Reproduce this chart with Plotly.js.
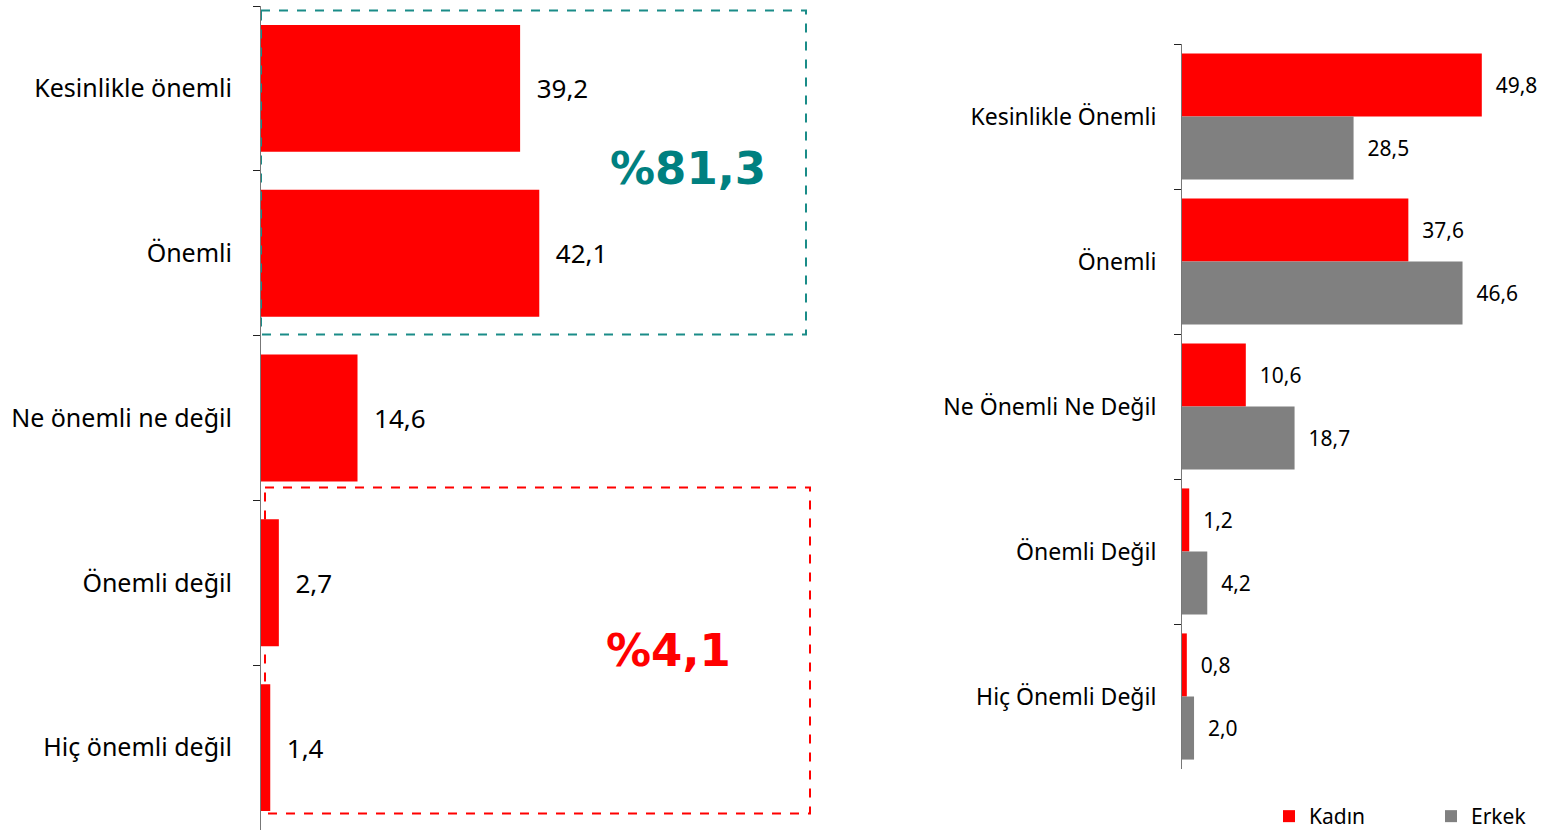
<!DOCTYPE html>
<html>
<head>
<meta charset="utf-8">
<script src="https://cdn.plot.ly/plotly-3.0.1.min.js"></script>
<style>html,body{margin:0;padding:0;background:#fff;overflow:hidden;}#chart{width:1553px;height:837px;}</style>
</head>
<body>
<div id="chart"></div>
<script>
// ---- Data ----
const leftCategories = ["Kesinlikle önemli", "Önemli", "Ne önemli ne değil", "Önemli değil", "Hiç önemli değil"];
const leftValues = [39.2, 42.1, 14.6, 2.7, 1.4];

const rightCategories = ["Kesinlikle Önemli", "Önemli", "Ne Önemli Ne Değil", "Önemli Değil", "Hiç Önemli Değil"];
const kadinValues = [49.8, 37.6, 10.6, 1.2, 0.8];
const erkekValues = [28.5, 46.6, 18.7, 4.2, 2.0];
const seriesNames = ["Kadın", "Erkek"];

const importantTotal = "%81,3";
const unimportantTotal = "%4,1";

// ---- Helpers ----
const fmt = v => "  " + v.toFixed(1).replace(".", ",");
const W = 1553, H = 837;
const px = (x) => x / W;
const py = (y) => (H - y) / H;

const FONT = "Noto Sans, Open Sans, sans-serif";

const traces = [
  {
    type: "bar", orientation: "h",
    y: leftCategories, x: leftValues,
    xaxis: "x", yaxis: "y",
    marker: {color: "#ff0000"},
    width: 0.77,
    text: leftValues.map(fmt), textposition: "outside",
    textfont: {family: FONT, size: 26, color: "#000"},
    cliponaxis: false, showlegend: false, hoverinfo: "x+y"
  },
  {
    type: "bar", orientation: "h",
    y: rightCategories, x: kadinValues, name: seriesNames[0],
    xaxis: "x2", yaxis: "y2", legend: "legend",
    marker: {color: "#ff0000"},
    text: kadinValues.map(fmt), textposition: "outside",
    textfont: {family: FONT, size: 21, color: "#000"},
    cliponaxis: false
  },
  {
    type: "bar", orientation: "h",
    y: rightCategories, x: erkekValues, name: seriesNames[1],
    xaxis: "x2", yaxis: "y2", legend: "legend2",
    marker: {color: "#808080"},
    text: erkekValues.map(fmt), textposition: "outside",
    textfont: {family: FONT, size: 21, color: "#000"},
    cliponaxis: false
  }
];

const leftScale = 6.61; // px per unit
const leftX0 = 261, leftX1 = 823;
const rightScale = 6.02;
const rightX0 = 1182, rightX1 = 1553;
const catTop = 88, catStep = 164.8;
const leftIdx = (y) => (y - catTop) / catStep;

const legendBase = {
  orientation: "h", xanchor: "left", y: 0, yanchor: "bottom",
  font: {family: FONT, size: 21, color: "#000"},
  itemwidth: 30, bgcolor: "rgba(0,0,0,0)", borderwidth: 0
};

const layout = {
  width: W, height: H,
  margin: {l: 0, r: 0, t: 0, b: 0},
  paper_bgcolor: "#fff", plot_bgcolor: "rgba(0,0,0,0)",
  font: {family: FONT, color: "#000"},
  barmode: "group", bargap: 0.13, bargroupgap: 0,
  xaxis: {
    domain: [px(leftX0), px(leftX1)], range: [0, (leftX1 - leftX0) / leftScale],
    visible: false, anchor: "y", fixedrange: true
  },
  yaxis: {
    domain: [py(830), py(6)], anchor: "x",
    type: "category", autorange: "reversed",
    tickson: "boundaries", ticks: "outside", ticklen: 7, tickcolor: "#222", tickwidth: 1,
    showline: true, linecolor: "#777", linewidth: 1, showgrid: false, zeroline: false,
    tickfont: {family: FONT, size: 25, color: "#000"}, ticklabelstandoff: 23,
    automargin: false, fixedrange: true
  },
  xaxis2: {
    domain: [px(rightX0), px(rightX1)], range: [0, (rightX1 - rightX0) / rightScale],
    visible: false, anchor: "y2", fixedrange: true
  },
  yaxis2: {
    domain: [py(769), py(44)], anchor: "x2",
    type: "category", autorange: "reversed",
    tickson: "boundaries", ticks: "outside", ticklen: 7, tickcolor: "#222", tickwidth: 1,
    showline: true, linecolor: "#777", linewidth: 1, showgrid: false, zeroline: false,
    tickfont: {family: FONT, size: 23, color: "#000"}, ticklabelstandoff: 20,
    automargin: false, fixedrange: true
  },
  legend: Object.assign({}, legendBase, {x: px(1269)}),
  legend2: Object.assign({}, legendBase, {x: px(1431)}),
  shapes: [
    {type: "rect", xref: "x", yref: "y",
     x0: 0, x1: (806 - leftX0) / leftScale, y0: leftIdx(10), y1: leftIdx(334),
     line: {color: "#1a8c88", width: 2, dash: "dash"}, fillcolor: "rgba(0,0,0,0)", layer: "above"},
    {type: "rect", xref: "x", yref: "y",
     x0: (265 - leftX0) / leftScale, x1: (810 - leftX0) / leftScale, y0: leftIdx(487), y1: leftIdx(813),
     line: {color: "#ff0000", width: 2, dash: "dash"}, fillcolor: "rgba(0,0,0,0)", layer: "above"}
  ],
  annotations: [
    {xref: "x", yref: "y", x: (688 - leftX0) / leftScale, y: leftIdx(168), text: importantTotal, showarrow: false,
     font: {family: "DejaVu Sans, Verdana, sans-serif", size: 45, color: "#008080", weight: "bold"}},
    {xref: "x", yref: "y", x: (668 - leftX0) / leftScale, y: leftIdx(650), text: unimportantTotal, showarrow: false,
     font: {family: "DejaVu Sans, Verdana, sans-serif", size: 45, color: "#ff0000", weight: "bold"}}
  ]
};

Plotly.newPlot("chart", traces, layout, {displayModeBar: false, staticPlot: true});
</script>
</body>
</html>
